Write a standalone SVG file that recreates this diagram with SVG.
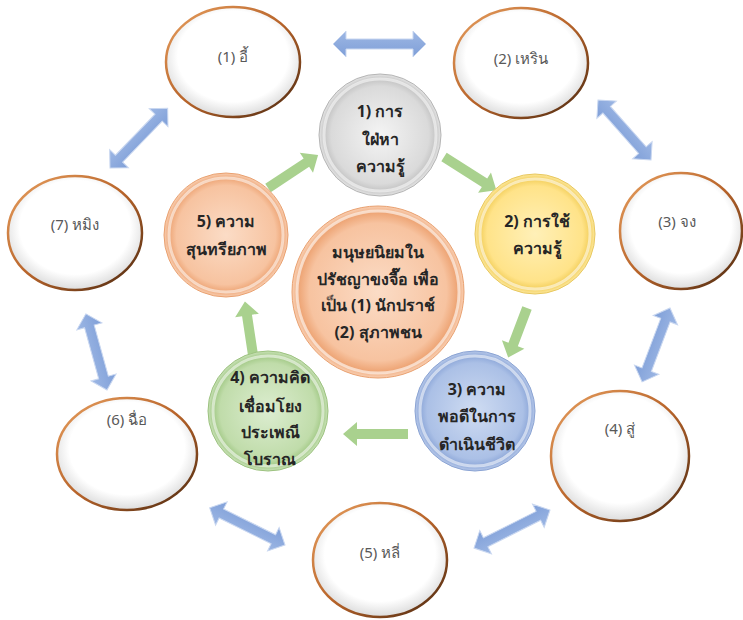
<svg xmlns="http://www.w3.org/2000/svg" width="743" height="620" viewBox="0 0 743 620">
<defs>
<style>
.outer{fill:url(#gWhite);stroke:url(#gBrown);stroke-width:2.5}
.olab{font-family:"Noto Sans","DejaVu Sans",Tahoma,sans-serif;font-size:15px;fill:#595959;text-anchor:middle}
.ilab{font-family:"Noto Sans","DejaVu Sans",Tahoma,sans-serif;font-size:16px;font-weight:bold;fill:#262626;text-anchor:middle}
.barr{fill:url(#gBlueA);stroke:#c9d7f0;stroke-width:1}
.garr{fill:#a9d18e}
.rim{fill:none;stroke:#ffffff;stroke-opacity:0.55;stroke-width:3}
</style>
<radialGradient id="gWhite" cx="50%" cy="45%" r="55%">
<stop offset="0.75" stop-color="#ffffff"/>
<stop offset="1" stop-color="#dcdcdc"/>
</radialGradient>
<linearGradient id="gBrown" x1="0" y1="0" x2="1" y2="1">
<stop offset="0" stop-color="#e8a060"/>
<stop offset="0.5" stop-color="#b8642a"/>
<stop offset="1" stop-color="#4a2810"/>
</linearGradient>
<linearGradient id="gBlueA" x1="0" y1="0" x2="0" y2="1">
<stop offset="0" stop-color="#9db7e4"/>
<stop offset="1" stop-color="#7f9fd8"/>
</linearGradient>
<radialGradient id="gGray" cx="50%" cy="50%" r="50%">
<stop offset="0" stop-color="#f4f4f4"/>
<stop offset="0.8" stop-color="#dadada"/>
<stop offset="0.92" stop-color="#c4c4c4"/>
<stop offset="1" stop-color="#e6e6e6"/>
</radialGradient>
<radialGradient id="gYellow" cx="50%" cy="50%" r="50%">
<stop offset="0" stop-color="#fff0b8"/>
<stop offset="0.8" stop-color="#ffe389"/>
<stop offset="0.92" stop-color="#f3cf5c"/>
<stop offset="1" stop-color="#fde9a0"/>
</radialGradient>
<radialGradient id="gBlue" cx="50%" cy="50%" r="50%">
<stop offset="0" stop-color="#cfdcf2"/>
<stop offset="0.8" stop-color="#abc0e6"/>
<stop offset="0.92" stop-color="#8ea8d9"/>
<stop offset="1" stop-color="#b9caea"/>
</radialGradient>
<radialGradient id="gGreen" cx="50%" cy="50%" r="50%">
<stop offset="0" stop-color="#dcedd0"/>
<stop offset="0.8" stop-color="#c0dcaa"/>
<stop offset="0.92" stop-color="#a2c986"/>
<stop offset="1" stop-color="#cbe3ba"/>
</radialGradient>
<radialGradient id="gOrange" cx="50%" cy="50%" r="50%">
<stop offset="0" stop-color="#fbdcc6"/>
<stop offset="0.8" stop-color="#f7c3a0"/>
<stop offset="0.92" stop-color="#eea677"/>
<stop offset="1" stop-color="#f9cfb2"/>
</radialGradient>
</defs>
<rect width="743" height="620" fill="#ffffff"/>

<g id="connectors">
<g id="blue-arrows">
<polygon class="barr" transform="translate(333,44)" points="0,0 13,-13 13,-5 80,-5 80,-13 93,0 80,13 80,5 13,5 13,13"/>
<polygon class="barr" transform="translate(598,100) rotate(48.5)" points="0,0 13,-13 13,-5 67,-5 67,-13 80,0 67,13 67,5 13,5 13,13"/>
<polygon class="barr" transform="translate(670,308) rotate(110.7)" points="0,0 13,-13 13,-5 66,-5 66,-13 79,0 66,13 66,5 13,5 13,13"/>
<polygon class="barr" transform="translate(550,510) rotate(153.4)" points="0,0 13,-13 13,-5 72,-5 72,-13 85,0 72,13 72,5 13,5 13,13"/>
<polygon class="barr" transform="translate(285,545) rotate(206.3)" points="0,0 13,-13 13,-5 71,-5 71,-13 84,0 71,13 71,5 13,5 13,13"/>
<polygon class="barr" transform="translate(107,390) rotate(254.5)" points="0,0 13,-13 13,-5 66,-5 66,-13 79,0 66,13 66,5 13,5 13,13"/>
<polygon class="barr" transform="translate(110,168) rotate(-46)" points="0,0 13,-13 13,-5 70,-5 70,-13 83,0 70,13 70,5 13,5 13,13"/>
</g>
<g id="green-arrows">
<polygon class="garr" transform="translate(268,188) rotate(-33.4)" points="0,-5 46,-5 46,-12 60,0 46,12 46,5 0,5"/>
<polygon class="garr" transform="translate(444,157) rotate(32.4)" points="0,-5 48,-5 48,-12 62,0 48,12 48,5 0,5"/>
<polygon class="garr" transform="translate(527,308) rotate(110.8)" points="0,-5 39,-5 39,-12 53,0 39,12 39,5 0,5"/>
<polygon class="garr" transform="translate(408,434) rotate(180)" points="0,-5 51,-5 51,-12 65,0 51,12 51,5 0,5"/>
<polygon class="garr" transform="translate(253,355) rotate(261.4)" points="0,-5 40,-5 40,-12 54,0 40,12 40,5 0,5"/>
</g>
</g>

<g id="outer1"><ellipse class="outer" cx="233" cy="62" rx="67" ry="55"/><text class="olab" x="233" y="62">(1) อี้</text></g>
<g id="outer2"><ellipse class="outer" cx="521" cy="63" rx="67" ry="55"/><text class="olab" x="521" y="64">(2) เหริน</text></g>
<g id="outer3"><ellipse class="outer" cx="681" cy="231" rx="61" ry="58"/><text class="olab" x="677" y="227">(3) จง</text></g>
<g id="outer4"><ellipse class="outer" cx="620" cy="456" rx="69" ry="65"/><text class="olab" x="620" y="434">(4) สู่</text></g>
<g id="outer5"><ellipse class="outer" cx="380" cy="560" rx="67" ry="57"/><text class="olab" x="380" y="558">(5) หลี่</text></g>
<g id="outer6"><ellipse class="outer" cx="127" cy="454" rx="70" ry="56"/><text class="olab" x="127" y="425">(6) ฉื่อ</text></g>
<g id="outer7"><ellipse class="outer" cx="75" cy="233" rx="67" ry="57"/><text class="olab" x="75" y="230">(7) หมิง</text></g>

<g id="inner1"><circle cx="380" cy="135" r="61" fill="url(#gGray)" stroke="#b5b5b5"/><circle class="rim" cx="380" cy="135" r="56"/>
<text class="ilab" x="380" y="117">1) การ</text><text class="ilab" x="380" y="145">ใฝ่หา</text><text class="ilab" x="380" y="172">ความรู้</text></g>
<g id="inner2"><circle cx="535" cy="234" r="60" fill="url(#gYellow)" stroke="#e8c860"/><circle class="rim" cx="535" cy="234" r="55"/>
<text class="ilab" x="537" y="227">2) การใช้</text><text class="ilab" x="537" y="254">ความรู้</text></g>
<g id="inner3"><circle cx="475" cy="411" r="60" fill="url(#gBlue)" stroke="#8aa3d3"/><circle class="rim" cx="475" cy="411" r="55"/>
<text class="ilab" x="477" y="395">3) ความ</text><text class="ilab" x="477" y="422">พอดีในการ</text><text class="ilab" x="477" y="450">ดำเนินชีวิต</text></g>
<g id="inner4"><circle cx="268" cy="411" r="60" fill="url(#gGreen)" stroke="#9cc27f"/><circle class="rim" cx="268" cy="411" r="55"/>
<text class="ilab" x="270" y="383">4) ความคิด</text><text class="ilab" x="270" y="412">เชื่อมโยง</text><text class="ilab" x="270" y="438">ประเพณี</text><text class="ilab" x="270" y="465">โบราณ</text></g>
<g id="inner5"><circle cx="226" cy="235" r="62" fill="url(#gOrange)" stroke="#e9a06f"/><circle class="rim" cx="226" cy="235" r="57"/>
<text class="ilab" x="226" y="227">5) ความ</text><text class="ilab" x="226" y="255">สุนทรียภาพ</text></g>
<g id="center"><circle cx="378" cy="292" r="86" fill="url(#gOrange)" stroke="#e9a06f"/><circle class="rim" cx="378" cy="292" r="81"/>
<text class="ilab" x="378" y="258">มนุษยนิยมใน</text><text class="ilab" x="378" y="285">ปรัชญาขงจื๊อ เพื่อ</text><text class="ilab" x="378" y="311">เป็น (1) นักปราช์</text><text class="ilab" x="378" y="338">(2) สุภาพชน</text></g>
</svg>
